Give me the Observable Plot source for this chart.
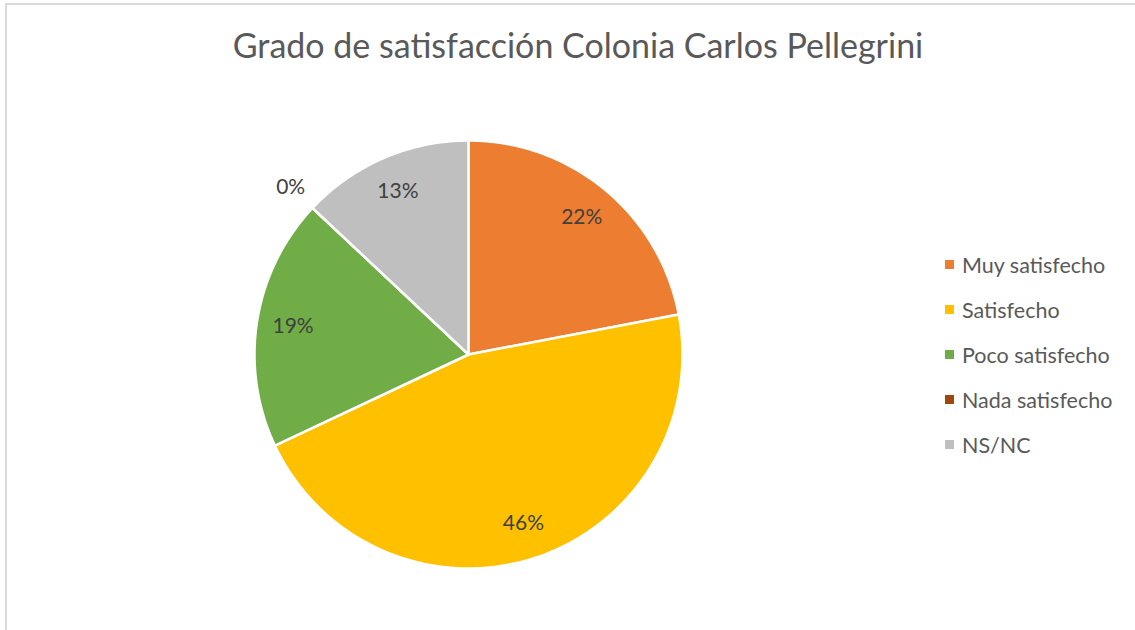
<!DOCTYPE html>
<html>
<head>
<meta charset="utf-8">
<script src="https://cdn.jsdelivr.net/npm/d3@7"></script>
<script src="https://cdn.jsdelivr.net/npm/@observablehq/plot@0.6"></script>
<style>
  html, body { margin: 0; padding: 0; background: #fff; }
  #wrap { position: relative; width: 1135px; height: 630px; overflow: hidden; font-family: Lato, "Open Sans", sans-serif; }
  #border { position: absolute; left: 5px; top: 3px; width: 1200px; height: 700px; border: 2px solid #d9d9d9; box-sizing: border-box; }
  #chart { position: absolute; left: 0; top: 0; }
  #legend { position: absolute; left: 945px; top: 242px; }
  .row { display: flex; align-items: center; height: 45px; font-size: 21.5px; color: #595959; }
  .sw { width: 9px; height: 9px; margin-right: 8px; }
</style>
</head>
<body>
<div id="wrap">
  <div id="border"></div>
  <div id="chart"></div>
  <div id="legend"></div>
</div>
<script>
const title = "Grado de satisfacción Colonia Carlos Pellegrini";
const categories = ["Muy satisfecho", "Satisfecho", "Poco satisfecho", "Nada satisfecho", "NS/NC"];
const values = [22, 46, 19, 0, 13];
const labels = ["22%", "46%", "19%", "0%", "13%"];
const colors = ["#ED7D31", "#FFC000", "#70AD47", "#9E480E", "#BFBFBF"];

const total = d3.sum(values);
let acc = 0;
const slices = categories.map((c, i) => {
  const a0 = acc / total * 2 * Math.PI;
  acc += values[i];
  const a1 = acc / total * 2 * Math.PI;
  return {category: c, value: values[i], label: labels[i], a0, a1};
});

// polygon points for each slice (angle measured clockwise from 12 o'clock)
const poly = [];
for (const s of slices) {
  poly.push({category: s.category, x: 0, y: 0});
  const n = Math.max(2, Math.ceil((s.a1 - s.a0) / (Math.PI / 180)));
  for (let k = 0; k <= n; k++) {
    const a = s.a0 + (s.a1 - s.a0) * k / n;
    poly.push({category: s.category, x: Math.sin(a), y: Math.cos(a)});
  }
}

const labelPts = slices.map(s => {
  const a = (s.a0 + s.a1) / 2;
  const r = s.value === 0 ? 1.14 : 0.83;
  return {label: s.label, x: r * Math.sin(a), y: r * Math.cos(a)};
});

const plot = Plot.plot({
  width: 1135,
  height: 630,
  margin: 0,
  style: {background: "transparent", fontFamily: "Lato, 'Open Sans', sans-serif"},
  x: {domain: [-1, 1], range: [254, 682], axis: null},
  y: {domain: [-1, 1], range: [568, 140], axis: null},
  color: {domain: categories, range: colors},
  marks: [
    Plot.line(poly, {x: "x", y: "y", z: "category", fill: "category", stroke: "white", strokeWidth: 2.5, strokeLinejoin: "round", curve: "linear-closed"}),
    Plot.text(labelPts, {x: "x", y: "y", text: "label", fill: "#404040", fontSize: 21, textAnchor: "middle", lineAnchor: "middle"}),
    Plot.text([title], {text: d => d, frameAnchor: "top", dx: 10, dy: 47, lineAnchor: "middle", fontSize: 34, fill: "#595959"})
  ]
});
document.getElementById("chart").appendChild(plot);

const legend = document.getElementById("legend");
categories.forEach((c, i) => {
  const row = document.createElement("div");
  row.className = "row";
  const sw = document.createElement("div");
  sw.className = "sw";
  sw.style.background = colors[i];
  const t = document.createElement("span");
  t.textContent = c;
  row.appendChild(sw);
  row.appendChild(t);
  legend.appendChild(row);
});
</script>
</body>
</html>
